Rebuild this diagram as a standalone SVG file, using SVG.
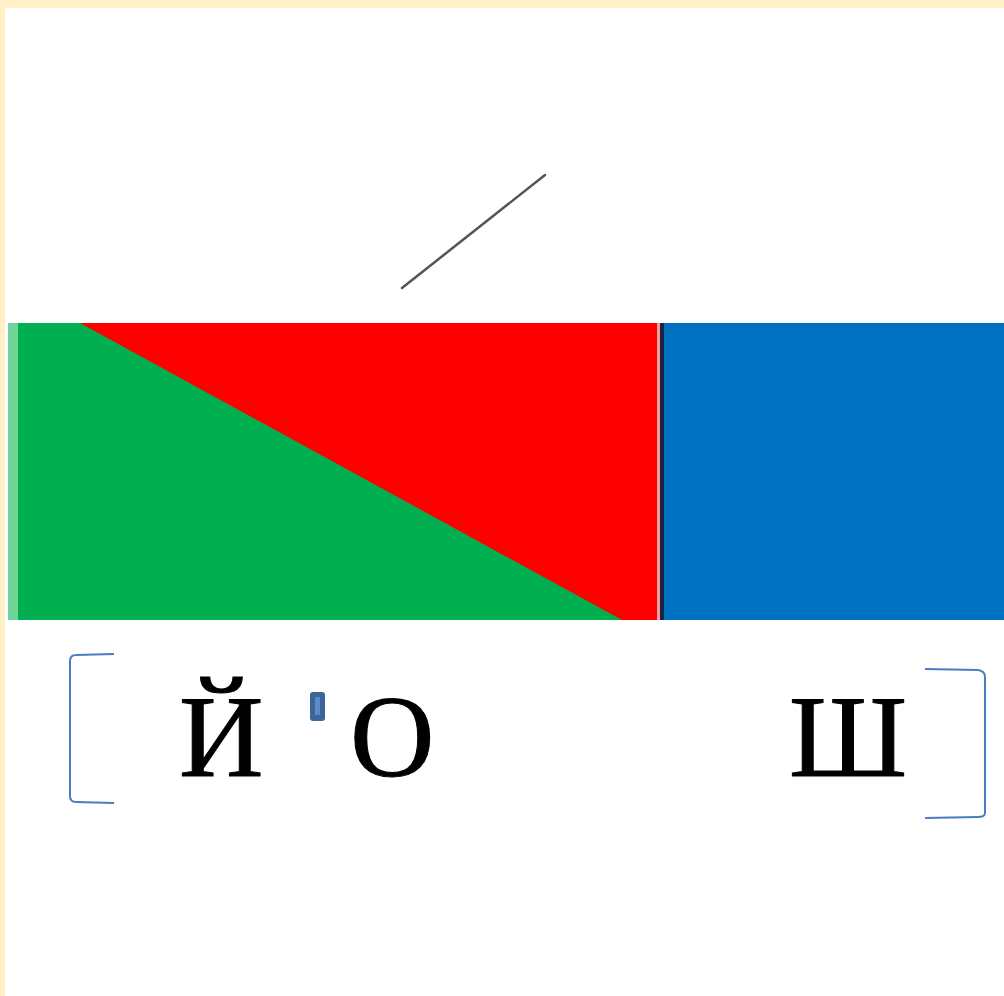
<svg xmlns="http://www.w3.org/2000/svg" width="1004" height="996" viewBox="0 0 1004 996">
<style>
.br{fill:none;stroke:#4a7ebf;stroke-width:2}
.t{font-family:"Liberation Serif","DejaVu Serif",serif;font-size:117px;fill:#000;stroke:#000;stroke-width:1}
</style>
<rect x="0" y="0" width="1004" height="996" fill="#ffffff"/>
<rect x="0" y="0" width="1004" height="8" fill="#fff0c8"/>
<rect x="0" y="0" width="5" height="996" fill="#fff0c8"/>
<g id="bar">
<rect x="8" y="323" width="12" height="297" fill="#6fd39a"/>
<rect x="18" y="323" width="642" height="297" fill="#00b050"/>
<polygon points="80,323 658,323 658,620 622,620" fill="#ff0000"/>
<rect x="657" y="323" width="3" height="297" fill="#f4a0a0"/>
<rect x="660" y="323" width="4" height="297" fill="#1a2440"/>
<rect x="664" y="323" width="340" height="297" fill="#0070c0"/>
</g>
<g id="stress">
<line x1="402" y1="288" x2="545" y2="175" stroke="#555" stroke-width="2.5" stroke-linecap="round"/>
</g>
<g id="brackets">
<path class="br" d="M114,654 L76,655 Q70,655 70,661 L70,796 Q70,802 76,802 L114,803"/>
<path class="br" d="M925,669 L978,670 Q985,671 985,677 L985,813 Q985,817 978,817 L925,818"/>
</g>
<g id="labels">
<text class="t" x="179" y="776">Й</text>
<rect x="310" y="692" width="15" height="29" rx="3" fill="#3d6597"/>
<rect x="315" y="697" width="5" height="18" fill="#5a8ccc"/>
<text class="t" x="350" y="776">О</text>
<text class="t" x="789" y="776">Ш</text>
</g>
</svg>
